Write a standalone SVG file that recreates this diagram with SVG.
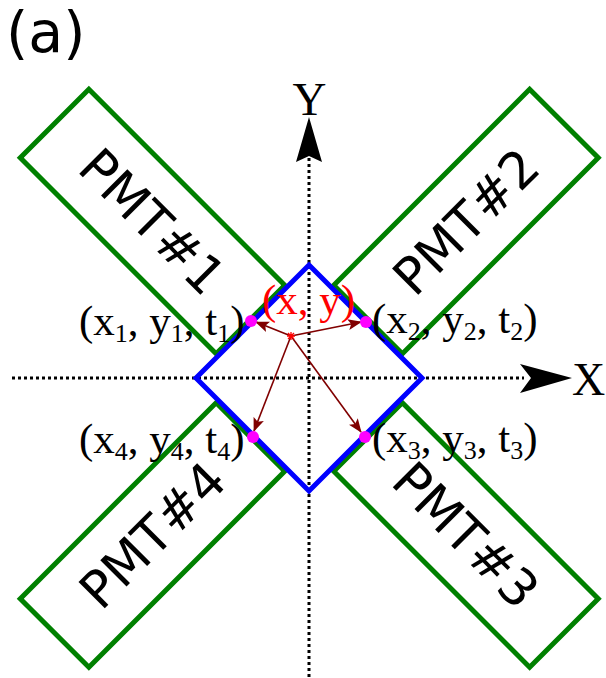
<svg xmlns="http://www.w3.org/2000/svg" width="606" height="678" viewBox="0 0 606 678">
<defs>
<style>
.pmt{fill:none;stroke:#008000;stroke-width:5}
.pmtt{font-family:"DejaVu Sans",sans-serif;font-size:51px;fill:#000;text-anchor:middle}
.axis{stroke:#000;stroke-width:3;stroke-dasharray:3 3;fill:none}
.lbl{font-family:"Liberation Serif","Times New Roman",serif;font-size:43px;fill:#000}
.sub{font-size:26px}
.ray{stroke:#800000;stroke-width:1.6;fill:none;marker-end:url(#ah)}
.dot{fill:#ff00ff}
</style>
<marker id="ah" markerUnits="userSpaceOnUse" markerWidth="15" markerHeight="11" refX="13" refY="5.5" orient="auto">
<path d="M0,0 L14,5.5 L0,11 L3,5.5 z" fill="#800000"/>
</marker>
</defs>
<rect width="606" height="678" fill="#fff"/>
<text x="6" y="52" font-family="DejaVu Sans,sans-serif" font-size="57">(a)</text>
<g id="axes">
<line class="axis" x1="12" y1="378" x2="524" y2="378"/>
<line class="axis" x1="309" y1="158" x2="309" y2="678"/>
<polygon points="572,378 520,364 531,378 520,393" fill="#000"/>
<polygon points="309,117 296,162 309,156 322,162" fill="#000"/>
<text x="572" y="395" font-family="Liberation Serif,serif" font-size="46">X</text>
<text x="309.5" y="115" font-family="Liberation Serif,serif" font-size="47" text-anchor="middle">Y</text>
</g>
<g id="pmt1" transform="translate(152.5,221.5) rotate(45)">
<rect class="pmt" x="-138.5" y="-48.5" width="277" height="97"/>
<text class="pmtt" x="0" y="18">PMT#1</text>
</g>
<g id="pmt2" transform="translate(466,221.5) rotate(-45)">
<rect class="pmt" x="-138.5" y="-48.5" width="277" height="97"/>
<text class="pmtt" x="0" y="18">PMT#2</text>
</g>
<g id="pmt3" transform="translate(466,535) rotate(45)">
<rect class="pmt" x="-138.5" y="-48.5" width="277" height="97"/>
<text class="pmtt" x="0" y="18">PMT#3</text>
</g>
<g id="pmt4" transform="translate(152.5,535) rotate(-45)">
<rect class="pmt" x="-138.5" y="-48.5" width="277" height="97"/>
<text class="pmtt" x="0" y="18">PMT#4</text>
</g>
<g id="scintillator">
<polygon points="309,265 422,378 309,491 196,378" fill="none" stroke="#0000ff" stroke-width="5"/>
</g>
<g id="connectors">
<line class="ray" x1="291" y1="336" x2="256" y2="322"/>
<line class="ray" x1="291" y1="336" x2="361" y2="322"/>
<line class="ray" x1="291" y1="336" x2="254" y2="431"/>
<line class="ray" x1="291" y1="336" x2="361" y2="432"/>
<path d="M287,336 H295 M291,332 V340 M288,333 L294,339 M294,333 L288,339" stroke="#ff0000" stroke-width="1.3"/>
</g>
<g id="hits">
<circle class="dot" cx="251" cy="321" r="6"/>
<circle class="dot" cx="366" cy="322" r="6"/>
<circle class="dot" cx="253" cy="437" r="6"/>
<circle class="dot" cx="365" cy="437" r="6"/>
</g>
<g id="labels">
<text class="lbl" x="79" y="335">(x<tspan class="sub" dy="7">1</tspan><tspan dy="-7">, y</tspan><tspan class="sub" dy="7">1</tspan><tspan dy="-7">, t</tspan><tspan class="sub" dy="7">1</tspan><tspan dy="-7">)</tspan></text>
<text class="lbl" x="372" y="333">(x<tspan class="sub" dy="7">2</tspan><tspan dy="-7">, y</tspan><tspan class="sub" dy="7">2</tspan><tspan dy="-7">, t</tspan><tspan class="sub" dy="7">2</tspan><tspan dy="-7">)</tspan></text>
<text class="lbl" x="372" y="452">(x<tspan class="sub" dy="7">3</tspan><tspan dy="-7">, y</tspan><tspan class="sub" dy="7">3</tspan><tspan dy="-7">, t</tspan><tspan class="sub" dy="7">3</tspan><tspan dy="-7">)</tspan></text>
<text class="lbl" x="79" y="453">(x<tspan class="sub" dy="7">4</tspan><tspan dy="-7">, y</tspan><tspan class="sub" dy="7">4</tspan><tspan dy="-7">, t</tspan><tspan class="sub" dy="7">4</tspan><tspan dy="-7">)</tspan></text>
<text class="lbl" x="262" y="314" font-size="42" style="fill:#ff0000">(x, y)</text>
</g>
</svg>
